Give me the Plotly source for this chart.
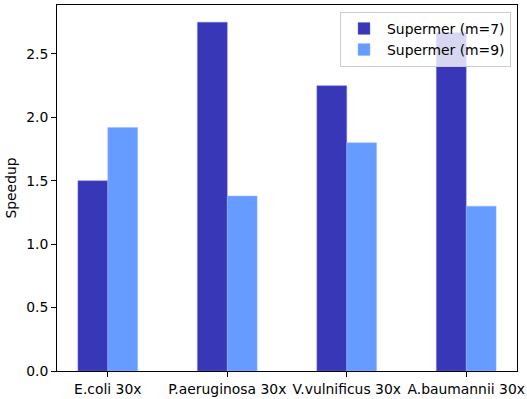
import plotly.graph_objects as go

categories = ["E.coli 30x", "P.aeruginosa 30x", "V.vulnificus 30x", "A.baumannii 30x"]
m7_values = [1.50, 2.75, 2.25, 2.67]
m9_values = [1.92, 1.38, 1.80, 1.30]
series_names = ["Supermer (m=7)", "Supermer (m=9)"]
colors = ["#3737b8", "#669cff"]

bar_w = 0.25
idx = list(range(len(categories)))

fig = go.Figure()
fig.add_trace(go.Bar(
    x=[i - bar_w / 2 for i in idx], y=m7_values, width=bar_w,
    name=series_names[0],
    marker=dict(color=colors[0], line=dict(width=0.6, color="rgba(120,120,230,0.8)")),
))
fig.add_trace(go.Bar(
    x=[i + bar_w / 2 for i in idx], y=m9_values, width=bar_w,
    name=series_names[1],
    marker=dict(color=colors[1], line=dict(width=0.6, color="rgba(150,185,255,0.8)")),
))

font = dict(family="DejaVu Sans", size=13.9, color="#000000")

fig.update_layout(
    width=527, height=399,
    margin=dict(l=57, r=10, t=5, b=28, autoexpand=False),
    paper_bgcolor="white", plot_bgcolor="white",
    barmode="overlay",
    font=font,
    showlegend=True,
    legend=dict(
        x=0.987, y=0.981, xanchor="right", yanchor="top",
        bgcolor="rgba(255,255,255,0.8)", bordercolor="#cccccc", borderwidth=1,
        font=font, itemwidth=36,
    ),
    xaxis=dict(
        range=[-0.425, 3.425], tickmode="array", tickvals=idx, ticktext=categories,
        showline=True, linecolor="black", linewidth=1, mirror=True,
        ticks="outside", ticklen=5, tickwidth=1, tickcolor="black",
        showgrid=False, zeroline=False, tickfont=font,
    ),
    yaxis=dict(
        range=[0, 2.886], dtick=0.5, tick0=0, tickformat=".1f",
        showline=True, linecolor="black", linewidth=1, mirror=True,
        ticks="outside", ticklen=5, tickwidth=1, tickcolor="black",
        showgrid=False, zeroline=False, tickfont=font,
        title=dict(text="Speedup", font=font, standoff=6),
    ),
)

fig.write_html("out.html")
